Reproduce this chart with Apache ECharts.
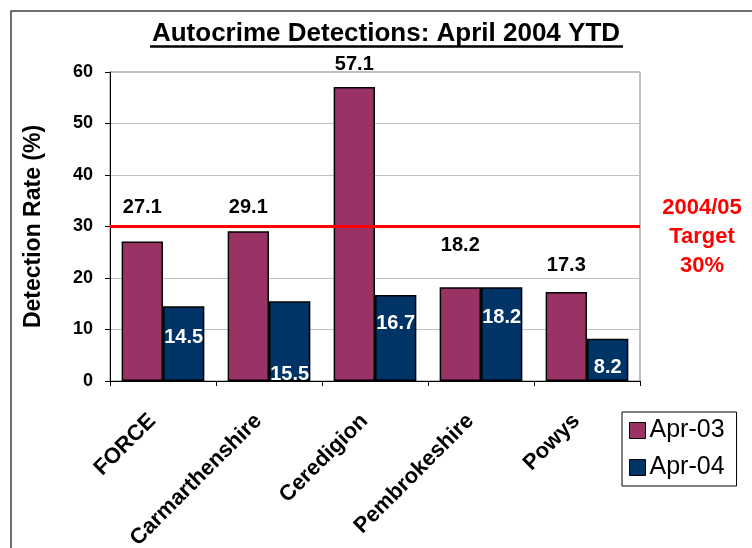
<!DOCTYPE html>
<html>
<head>
<meta charset="utf-8">
<script src="https://cdn.jsdelivr.net/npm/echarts@6/dist/echarts.min.js"></script>
<style>
  html, body { margin: 0; padding: 0; background: #fff; }
  #chart { width: 752px; height: 548px; }
</style>
</head>
<body>
<div id="chart"></div>
<script>
var categories = ['FORCE', 'Carmarthenshire', 'Ceredigion', 'Pembrokeshire', 'Powys'];
var apr03 = [27.1, 29.1, 57.1, 18.2, 17.3];
var apr04 = [14.5, 15.5, 16.7, 18.2, 8.2];
var seriesNames = ['Apr-03', 'Apr-04'];
var target = 30;
var yTicks = { min: 0, max: 60, interval: 10 };

// hand placed labels in the original, so nudge each one
var lift03 = [-19, -9, -7, -27, -11];
var drop04 = [16, 58, 13, 15, 14];

var font = '"Liberation Sans", Arial, sans-serif';

var chart = echarts.init(document.getElementById('chart'));

chart.setOption({
    animation: false,
    grid: {
        left: 110,
        right: 112,
        top: 72,
        bottom: 167,
        outerBoundsMode: 'none',
        containLabel: false,
        show: true,
        borderColor: '#808080',
        borderWidth: 1
    },
    graphic: [
        {
            type: 'rect',
            shape: { x: 11, y: 11, width: 780, height: 600 },
            style: { fill: 'none', stroke: '#404040', lineWidth: 1.5 },
            silent: true
        },
        {
            type: 'text',
            x: 386,
            y: 21,
            style: {
                text: 'Autocrime Detections: April 2004 YTD',
                font: 'bold 26px ' + font,
                fill: '#000',
                textAlign: 'center'
            }
        },
        {
            type: 'line',
            shape: { x1: 150, y1: 46.5, x2: 623, y2: 46.5 },
            style: { stroke: '#000', lineWidth: 2.5 }
        },
        {
            type: 'text',
            x: 702,
            y: 193,
            style: {
                text: '2004/05\nTarget\n30%',
                font: 'bold 22px ' + font,
                lineHeight: 29,
                fill: '#ff0000',
                textAlign: 'center'
            }
        }
    ],
    legend: {
        data: seriesNames,
        orient: 'vertical',
        left: 622,
        top: 412,
        padding: [6, 12, 6, 7],
        itemWidth: 16,
        itemHeight: 16,
        itemGap: 12,
        icon: 'rect',
        borderColor: '#000',
        borderWidth: 1,
        itemStyle: { borderColor: '#000', borderWidth: 1 },
        textStyle: { fontFamily: font, fontSize: 25, color: '#000', padding: [0, 0, 0, -1] }
    },
    xAxis: {
        type: 'category',
        data: categories,
        axisLine: { lineStyle: { color: '#000', width: 1 } },
        axisTick: { show: true, length: 5, lineStyle: { color: '#000' } },
        axisLabel: {
            rotate: 45,
            margin: 26,
            padding: [0, 15, 0, 0],
            interval: 0,
            fontFamily: font,
            fontWeight: 'bold',
            fontSize: 22,
            color: '#000'
        }
    },
    yAxis: {
        type: 'value',
        min: yTicks.min,
        max: yTicks.max,
        interval: yTicks.interval,
        name: 'Detection Rate (%)',
        nameLocation: 'middle',
        nameGap: 65,
        nameTextStyle: { fontFamily: font, fontWeight: 'bold', fontSize: 23, color: '#000' },
        axisLine: { show: true, lineStyle: { color: '#000', width: 1 } },
        axisTick: { show: true, length: 5, lineStyle: { color: '#000' } },
        axisLabel: { fontFamily: font, fontWeight: 'bold', fontSize: 18, color: '#000', margin: 17 },
        splitLine: { lineStyle: { color: '#c0c0c0', width: 1 } }
    },
    series: [
        {
            name: seriesNames[0],
            type: 'bar',
            barGap: '0%',
            barCategoryGap: '22%',
            itemStyle: { color: '#993366', borderColor: '#000', borderWidth: 1.5 },
            data: apr03.map(function (v, i) {
                return { value: v, label: { offset: [0, lift03[i]] } };
            }),
            label: {
                show: true,
                position: 'top',
                fontFamily: font,
                fontWeight: 'bold',
                fontSize: 20,
                color: '#000'
            },
            markLine: {
                silent: true,
                symbol: ['none', 'none'],
                label: { show: false },
                lineStyle: { color: '#ff0000', width: 3, type: 'solid' },
                data: [{ yAxis: target }]
            }
        },
        {
            name: seriesNames[1],
            type: 'bar',
            itemStyle: { color: '#003366', borderColor: '#000', borderWidth: 1.5 },
            data: apr04.map(function (v, i) {
                return { value: v, label: { offset: [0, drop04[i]] } };
            }),
            label: {
                show: true,
                position: 'insideTop',
                fontFamily: font,
                fontWeight: 'bold',
                fontSize: 20,
                color: '#fff'
            }
        }
    ]
});
</script>
</body>
</html>
